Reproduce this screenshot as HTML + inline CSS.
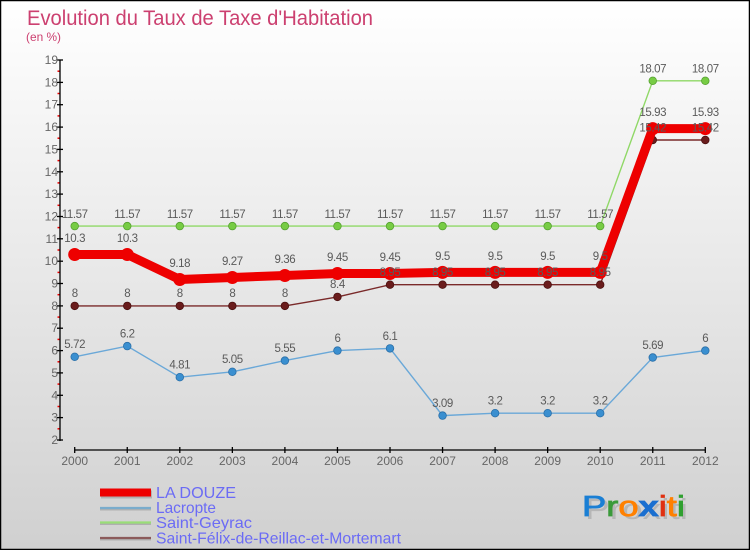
<!DOCTYPE html>
<html><head><meta charset="utf-8"><style>
html,body{margin:0;padding:0;width:750px;height:550px;overflow:hidden;}
svg{display:block;}
text{font-family:"Liberation Sans",sans-serif;}
</style></head><body>
<svg width="750" height="550" viewBox="0 0 750 550" xmlns="http://www.w3.org/2000/svg">
<defs>
<linearGradient id="bg" x1="0" y1="0" x2="0" y2="1">
<stop offset="0" stop-color="#ffffff"/>
<stop offset="0.5" stop-color="#e8e8e8"/>
<stop offset="1" stop-color="#d0d0d0"/>
</linearGradient>
</defs>
<rect x="0" y="0" width="750" height="550" fill="url(#bg)"/>
<rect x="0.5" y="0.5" width="749" height="549" fill="none" stroke="#000" stroke-width="1.5"/>

<text x="27" y="25" font-size="21" fill="#cc4070" textLength="346" lengthAdjust="spacingAndGlyphs">Evolution du Taux de Taxe d'Habitation</text>
<text x="26" y="41" font-size="12" fill="#cc4070" textLength="35" lengthAdjust="spacingAndGlyphs">(en %)</text>

<!-- Y axis -->
<g stroke="#e00" stroke-width="1.5">
<line x1="57.5" y1="71.2" x2="60" y2="71.2"/><line x1="57.5" y1="93.5" x2="60" y2="93.5"/><line x1="57.5" y1="115.9" x2="60" y2="115.9"/><line x1="57.5" y1="138.2" x2="60" y2="138.2"/><line x1="57.5" y1="160.6" x2="60" y2="160.6"/><line x1="57.5" y1="182.9" x2="60" y2="182.9"/><line x1="57.5" y1="205.3" x2="60" y2="205.3"/><line x1="57.5" y1="227.6" x2="60" y2="227.6"/><line x1="57.5" y1="250.0" x2="60" y2="250.0"/><line x1="57.5" y1="272.4" x2="60" y2="272.4"/><line x1="57.5" y1="294.7" x2="60" y2="294.7"/><line x1="57.5" y1="317.1" x2="60" y2="317.1"/><line x1="57.5" y1="339.4" x2="60" y2="339.4"/><line x1="57.5" y1="361.8" x2="60" y2="361.8"/><line x1="57.5" y1="384.1" x2="60" y2="384.1"/><line x1="57.5" y1="406.5" x2="60" y2="406.5"/><line x1="57.5" y1="428.8" x2="60" y2="428.8"/>
</g>
<g stroke="#000" stroke-width="1.3">
<line x1="60" y1="60" x2="60" y2="441"/>
<line x1="57" y1="60" x2="63" y2="60"/><line x1="57" y1="82.4" x2="63" y2="82.4"/><line x1="57" y1="104.7" x2="63" y2="104.7"/><line x1="57" y1="127.1" x2="63" y2="127.1"/><line x1="57" y1="149.4" x2="63" y2="149.4"/><line x1="57" y1="171.8" x2="63" y2="171.8"/><line x1="57" y1="194.1" x2="63" y2="194.1"/><line x1="57" y1="216.5" x2="63" y2="216.5"/><line x1="57" y1="238.8" x2="63" y2="238.8"/><line x1="57" y1="261.2" x2="63" y2="261.2"/><line x1="57" y1="283.5" x2="63" y2="283.5"/><line x1="57" y1="305.9" x2="63" y2="305.9"/><line x1="57" y1="328.2" x2="63" y2="328.2"/><line x1="57" y1="350.6" x2="63" y2="350.6"/><line x1="57" y1="372.9" x2="63" y2="372.9"/><line x1="57" y1="395.3" x2="63" y2="395.3"/><line x1="57" y1="417.6" x2="63" y2="417.6"/><line x1="57" y1="440" x2="63" y2="440"/>
</g>
<g font-size="12" fill="#666" text-anchor="end">
<text x="58" y="64">19</text><text x="58" y="86.4">18</text><text x="58" y="108.7">17</text><text x="58" y="131.1">16</text><text x="58" y="153.4">15</text><text x="58" y="175.8">14</text><text x="58" y="198.1">13</text><text x="58" y="220.5">12</text><text x="58" y="242.8">11</text><text x="58" y="265.2">10</text><text x="58" y="287.5">9</text><text x="58" y="309.9">8</text><text x="58" y="332.2">7</text><text x="58" y="354.6">6</text><text x="58" y="376.9">5</text><text x="58" y="399.3">4</text><text x="58" y="421.6">3</text><text x="58" y="444">2</text>
</g>

<!-- X axis -->
<g stroke="#000" stroke-width="1.3">
<line x1="74.7" y1="450" x2="705.3" y2="450"/>
<line x1="74.7" y1="447" x2="74.7" y2="453"/><line x1="127.25" y1="447" x2="127.25" y2="453"/><line x1="179.8" y1="447" x2="179.8" y2="453"/><line x1="232.35" y1="447" x2="232.35" y2="453"/><line x1="284.9" y1="447" x2="284.9" y2="453"/><line x1="337.45" y1="447" x2="337.45" y2="453"/><line x1="390" y1="447" x2="390" y2="453"/><line x1="442.55" y1="447" x2="442.55" y2="453"/><line x1="495.1" y1="447" x2="495.1" y2="453"/><line x1="547.65" y1="447" x2="547.65" y2="453"/><line x1="600.2" y1="447" x2="600.2" y2="453"/><line x1="652.75" y1="447" x2="652.75" y2="453"/><line x1="705.3" y1="447" x2="705.3" y2="453"/>
</g>
<g font-size="12" fill="#666" text-anchor="middle">
<text x="74.7" y="465">2000</text><text x="127.25" y="465">2001</text><text x="179.8" y="465">2002</text><text x="232.35" y="465">2003</text><text x="284.9" y="465">2004</text><text x="337.45" y="465">2005</text><text x="390" y="465">2006</text><text x="442.55" y="465">2007</text><text x="495.1" y="465">2008</text><text x="547.65" y="465">2009</text><text x="600.2" y="465">2010</text><text x="652.75" y="465">2011</text><text x="705.3" y="465">2012</text>
</g>

<!-- Saint-Félix -->
<polyline fill="none" stroke="#7a2a2a" stroke-width="1.4" points="74.7,305.9 127.25,305.9 179.8,305.9 232.35,305.9 284.9,305.9 337.45,296.9 390,284.7 442.55,284.7 495.1,284.7 547.65,284.7 600.2,284.7 652.75,140 705.3,140"/>
<g fill="#6a1c1c" stroke="#4a1010" stroke-width="0.8">
<circle cx="74.7" cy="305.9" r="3.8"/><circle cx="127.25" cy="305.9" r="3.8"/><circle cx="179.8" cy="305.9" r="3.8"/><circle cx="232.35" cy="305.9" r="3.8"/><circle cx="284.9" cy="305.9" r="3.8"/><circle cx="337.45" cy="296.9" r="3.8"/><circle cx="390" cy="284.7" r="3.8"/><circle cx="442.55" cy="284.7" r="3.8"/><circle cx="495.1" cy="284.7" r="3.8"/><circle cx="547.65" cy="284.7" r="3.8"/><circle cx="600.2" cy="284.7" r="3.8"/><circle cx="652.75" cy="140" r="3.8"/><circle cx="705.3" cy="140" r="3.8"/>
</g>

<!-- Saint-Geyrac -->
<polyline fill="none" stroke="#8fd866" stroke-width="1.4" points="74.7,226.1 127.25,226.1 179.8,226.1 232.35,226.1 284.9,226.1 337.45,226.1 390,226.1 442.55,226.1 495.1,226.1 547.65,226.1 600.2,226.1 652.75,80.8 705.3,80.8"/>
<g fill="#77cc44" stroke="#55a030" stroke-width="0.8">
<circle cx="74.7" cy="226.1" r="3.8"/><circle cx="127.25" cy="226.1" r="3.8"/><circle cx="179.8" cy="226.1" r="3.8"/><circle cx="232.35" cy="226.1" r="3.8"/><circle cx="284.9" cy="226.1" r="3.8"/><circle cx="337.45" cy="226.1" r="3.8"/><circle cx="390" cy="226.1" r="3.8"/><circle cx="442.55" cy="226.1" r="3.8"/><circle cx="495.1" cy="226.1" r="3.8"/><circle cx="547.65" cy="226.1" r="3.8"/><circle cx="600.2" cy="226.1" r="3.8"/><circle cx="652.75" cy="80.8" r="3.8"/><circle cx="705.3" cy="80.8" r="3.8"/>
</g>

<!-- Lacropte -->
<polyline fill="none" stroke="#6aa8d8" stroke-width="1.4" points="74.7,356.8 127.25,346.1 179.8,377.2 232.35,371.8 284.9,360.6 337.45,350.6 390,348.4 442.55,415.6 495.1,413.2 547.65,413.2 600.2,413.2 652.75,357.5 705.3,350.6"/>
<g fill="#3a8fd0" stroke="#2a6fa8" stroke-width="0.8">
<circle cx="74.7" cy="356.8" r="3.8"/><circle cx="127.25" cy="346.1" r="3.8"/><circle cx="179.8" cy="377.2" r="3.8"/><circle cx="232.35" cy="371.8" r="3.8"/><circle cx="284.9" cy="360.6" r="3.8"/><circle cx="337.45" cy="350.6" r="3.8"/><circle cx="390" cy="348.4" r="3.8"/><circle cx="442.55" cy="415.6" r="3.8"/><circle cx="495.1" cy="413.2" r="3.8"/><circle cx="547.65" cy="413.2" r="3.8"/><circle cx="600.2" cy="413.2" r="3.8"/><circle cx="652.75" cy="357.5" r="3.8"/><circle cx="705.3" cy="350.6" r="3.8"/>
</g>

<!-- LA DOUZE -->
<polyline fill="none" stroke="#ee0000" stroke-width="9" stroke-linejoin="round" points="74.7,254.5 127.25,254.5 179.8,279.5 232.35,277.5 284.9,275.5 337.45,273.5 390,273.5 442.55,272.4 495.1,272.4 547.65,272.4 600.2,272.4 652.75,128.6 705.3,128.6"/>
<g fill="#ee0000">
<circle cx="74.7" cy="254.5" r="6.5"/><circle cx="127.25" cy="254.5" r="6.5"/><circle cx="179.8" cy="279.5" r="6.5"/><circle cx="232.35" cy="277.5" r="6.5"/><circle cx="284.9" cy="275.5" r="6.5"/><circle cx="337.45" cy="273.5" r="6.5"/><circle cx="390" cy="273.5" r="6.5"/><circle cx="442.55" cy="272.4" r="6.5"/><circle cx="495.1" cy="272.4" r="6.5"/><circle cx="547.65" cy="272.4" r="6.5"/><circle cx="600.2" cy="272.4" r="6.5"/><circle cx="652.75" cy="128.6" r="6.5"/><circle cx="705.3" cy="128.6" r="6.5"/>
</g>

<!-- Labels -->
<g font-size="11.5" fill="#5a5a5a" text-anchor="middle" letter-spacing="-0.4">
<text x="74.7" y="218">11.57</text><text x="127.25" y="218">11.57</text><text x="179.8" y="218">11.57</text><text x="232.35" y="218">11.57</text><text x="284.9" y="218">11.57</text><text x="337.45" y="218">11.57</text><text x="390" y="218">11.57</text><text x="442.55" y="218">11.57</text><text x="495.1" y="218">11.57</text><text x="547.65" y="218">11.57</text><text x="600.2" y="218">11.57</text><text x="652.75" y="72.5">18.07</text><text x="705.3" y="72.5">18.07</text>
<text x="74.7" y="242">10.3</text><text x="127.25" y="242">10.3</text><text x="179.8" y="267">9.18</text><text x="232.35" y="265">9.27</text><text x="284.9" y="263">9.36</text><text x="337.45" y="261">9.45</text><text x="390" y="261">9.45</text><text x="442.55" y="260">9.5</text><text x="495.1" y="260">9.5</text><text x="547.65" y="260">9.5</text><text x="600.2" y="260">9.5</text><text x="652.75" y="116">15.93</text><text x="705.3" y="116">15.93</text>
<text x="74.7" y="297">8</text><text x="127.25" y="297">8</text><text x="179.8" y="297">8</text><text x="232.35" y="297">8</text><text x="284.9" y="297">8</text><text x="337.45" y="288">8.4</text><text x="390" y="276">8.95</text><text x="442.55" y="276">8.95</text><text x="495.1" y="276">8.95</text><text x="547.65" y="276">8.95</text><text x="600.2" y="276">8.95</text><text x="652.75" y="131.5">15.42</text><text x="705.3" y="131.5">15.42</text>
<text x="74.7" y="348">5.72</text><text x="127.25" y="337.5">6.2</text><text x="179.8" y="368.5">4.81</text><text x="232.35" y="363">5.05</text><text x="284.9" y="352">5.55</text><text x="337.45" y="342">6</text><text x="390" y="340">6.1</text><text x="442.55" y="407">3.09</text><text x="495.1" y="404.5">3.2</text><text x="547.65" y="404.5">3.2</text><text x="600.2" y="404.5">3.2</text><text x="652.75" y="349">5.69</text><text x="705.3" y="342">6</text>
</g>

<!-- Legend -->
<rect x="101" y="490.5" width="51" height="8" fill="#999" opacity="0.6"/>
<rect x="100" y="488.5" width="51" height="8" fill="#ee0000"/>
<line x1="100" y1="509.5" x2="151" y2="509.5" stroke="#999" stroke-width="2" opacity="0.6"/>
<line x1="100" y1="508" x2="151" y2="508" stroke="#7aaccc" stroke-width="2.2"/>
<line x1="100" y1="524" x2="151" y2="524" stroke="#999" stroke-width="2" opacity="0.6"/>
<line x1="100" y1="522.5" x2="151" y2="522.5" stroke="#99dd77" stroke-width="2.2"/>
<line x1="100" y1="539.5" x2="151" y2="539.5" stroke="#999" stroke-width="2" opacity="0.6"/>
<line x1="100" y1="538" x2="151" y2="538" stroke="#8b5a5a" stroke-width="2.2"/>
<g font-size="16" fill="#6b6bf5">
<text x="156" y="498" textLength="80" lengthAdjust="spacingAndGlyphs">LA DOUZE</text>
<text x="156" y="513" textLength="60" lengthAdjust="spacingAndGlyphs">Lacropte</text>
<text x="156" y="528" textLength="96" lengthAdjust="spacingAndGlyphs">Saint-Geyrac</text>
<text x="156" y="543.5" textLength="245" lengthAdjust="spacingAndGlyphs">Saint-Félix-de-Reillac-et-Mortemart</text>
</g>

<!-- Proxiti logo -->
<text x="585" y="519" font-size="29" fill="#aaa" opacity="0.7" textLength="103" lengthAdjust="spacingAndGlyphs">Proxiti</text>
<text x="582" y="516" font-size="29" textLength="103" lengthAdjust="spacingAndGlyphs" stroke-width="0.8"><tspan fill="#1a7fd4" stroke="#1a7fd4">P</tspan><tspan fill="#3a9a3a" stroke="#3a9a3a">r</tspan><tspan fill="#ff8000" stroke="#ff8000">o</tspan><tspan fill="#1a6fd0" stroke="#1a6fd0" font-weight="bold">x</tspan><tspan fill="#e03010" stroke="#e03010">i</tspan><tspan fill="#ff8000" stroke="#ff8000">t</tspan><tspan fill="#30a030" stroke="#30a030">i</tspan></text>
</svg>
</body></html>
